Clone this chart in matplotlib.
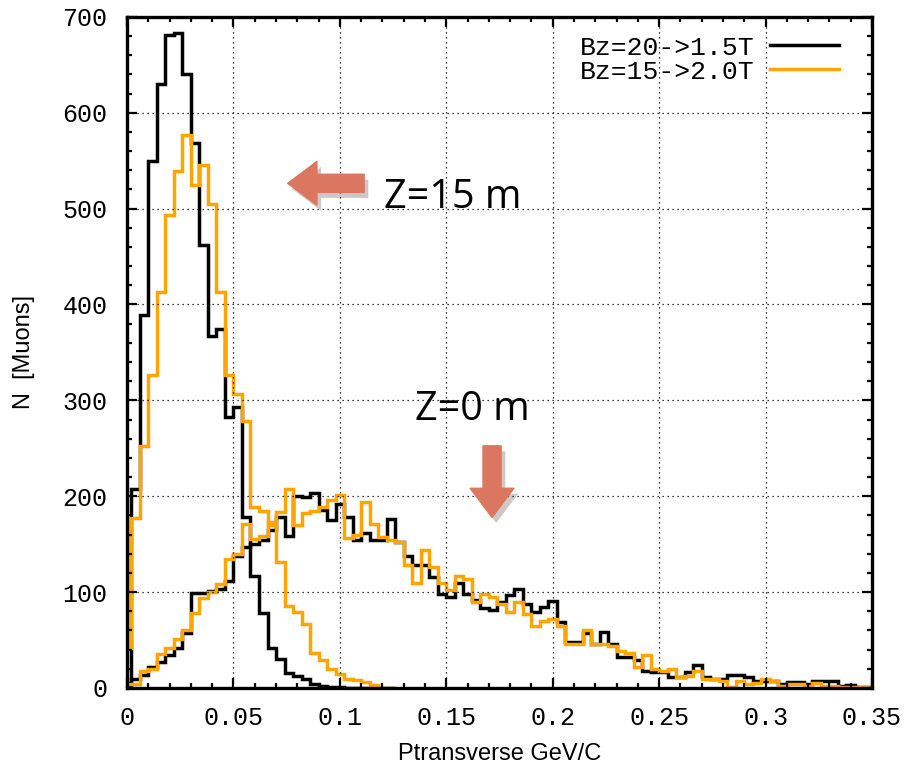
import numpy as np
import matplotlib.pyplot as plt
import matplotlib.patheffects as pe

# bin width 0.004 GeV/c, bins centred on multiples of the width
bin_w = 0.004

# Z=15 m
bz20_z15 = [2, 208, 389, 550, 630, 681, 683, 640, 568, 462, 367, 374, 283, 293,
            178, 117, 78, 42, 30, 16, 13, 9, 4, 2, 1, 1, 0, 0, 0, 0, 0, 0]
bz15_z15 = [42, 177, 252, 326, 413, 493, 539, 577, 525, 546, 505, 413, 326, 307,
            279, 189, 185, 170, 131, 86, 79, 67, 37, 29, 20, 15, 9, 8, 6, 3, 0, 0]

# Z=0 m
bz20_z0 = [5, 9, 14, 22, 27, 34, 42, 57, 99, 99, 101, 103, 112, 138, 147, 150,
           154, 165, 178, 159, 200, 199, 203, 186, 175, 192, 178, 154, 162, 154,
           154, 176, 152, 138, 128, 128, 116, 98, 95, 110, 98, 92, 83, 81, 90, 97,
           103, 88, 79, 84, 91, 69, 48, 48, 57, 46, 58, 46, 32, 32, 29, 18, 17, 17,
           11, 11, 17, 24, 11, 9, 9, 14, 14, 11, 7, 7, 7, 4, 6, 6, 4, 7, 7, 7,
           2, 3, 1, 1]
bz15_z0 = [4, 4, 18, 20, 35, 42, 51, 60, 78, 94, 100, 108, 135, 140, 171, 155,
           159, 173, 184, 208, 170, 183, 185, 189, 196, 201, 156, 160, 194, 171,
           157, 154, 152, 128, 110, 144, 126, 110, 102, 117, 114, 90, 98, 95, 88,
           79, 90, 77, 65, 70, 72, 65, 46, 46, 60, 46, 46, 44, 39, 37, 22, 34, 20,
           18, 20, 11, 12, 18, 9, 9, 7, 1, 7, 4, 5, 9, 7, 2, 4, 4, 2, 5, 2, 2,
           1, 1, 1, 1]

labels = ['Bz=20->1.5T', 'Bz=15->2.0T']
colors = ['black', '#FFA500']


def edges(vals):
    c = np.arange(len(vals)) * bin_w
    return np.append(c - bin_w / 2, c[-1] + bin_w / 2)


fig = plt.figure(figsize=(9.14, 7.67), dpi=100)
ax = fig.add_axes([0.139, 0.103, 0.815, 0.875])

lw = 2.5
ax.stairs(bz20_z15, edges(bz20_z15), color=colors[0], lw=lw, baseline=None)
ax.stairs(bz20_z0, edges(bz20_z0), color=colors[0], lw=lw, baseline=None)
ax.stairs(bz15_z15, edges(bz15_z15), color=colors[1], lw=lw, baseline=None)
ax.stairs(bz15_z0, edges(bz15_z0), color=colors[1], lw=lw, baseline=None)

ax.set_xlim(0, 0.35)
ax.set_ylim(0, 700)
ax.set_xticks(np.arange(0, 0.351, 0.05))
ax.set_xticklabels(['0', '0.05', '0.1', '0.15', '0.2', '0.25', '0.3', '0.35'])
ax.set_xticks(np.arange(0, 0.351, 0.01), minor=True)
ax.set_yticks(np.arange(0, 701, 100))
ax.set_yticks(np.arange(0, 701, 20), minor=True)

mono = 'Liberation Mono'
for t in ax.get_xticklabels() + ax.get_yticklabels():
    t.set_family(mono)
    t.set_fontsize(18)

ax.tick_params(which='both', direction='in', top=True, right=True, width=1.6)
ax.tick_params(which='major', length=7.5)
ax.tick_params(axis='x', which='major', pad=13)
ax.tick_params(axis='y', which='major', pad=14)
ax.tick_params(which='minor', length=3.8)
for s in ax.spines.values():
    s.set_linewidth(2.4)

ax.grid(True, which='major', color='black', lw=0.9, ls=(0, (1, 3)))

sans = 'Liberation Sans'
ax.set_xlabel('Ptransverse GeV/C', family=sans, fontsize=17, labelpad=9)
ax.set_ylabel('N  [Muons]', family=sans, fontsize=17, labelpad=20)

h = [plt.Line2D([], [], color=c, lw=lw) for c in colors]
ax.legend(h, labels, loc='upper right', frameon=False, markerfirst=False,
          prop={'family': mono, 'size': 19}, handlelength=2.6,
          labelspacing=0.0, borderaxespad=1.0, handletextpad=0.6,
          bbox_to_anchor=(1.005, 1.027))

# annotations
arrow_col = '#DB7760'
shadow = [pe.SimplePatchShadow(offset=(3, -4), alpha=0.25), pe.Normal()]
style = 'simple,head_length=1.0,head_width=1.5,tail_width=0.62'
a1 = ax.annotate('', xy=(0.212, 0.752), xytext=(0.322, 0.752),
                 xycoords='axes fraction',
                 arrowprops=dict(arrowstyle=style, color=arrow_col,
                                 mutation_scale=21))
a1.arrow_patch.set_path_effects(shadow)
a2 = ax.annotate('', xy=(0.49, 0.25), xytext=(0.49, 0.365),
                 xycoords='axes fraction',
                 arrowprops=dict(arrowstyle=style, color=arrow_col,
                                 mutation_scale=21))
a2.arrow_patch.set_path_effects(shadow)

ax.text(0.345, 0.73, 'Z=15 m', transform=ax.transAxes, family='Open Sans',
        fontsize=28.5, va='center', ha='left')
ax.text(0.386, 0.414, 'Z=0 m', transform=ax.transAxes, family='Open Sans',
        fontsize=28.5, va='center', ha='left')

fig.savefig('out.png', dpi=100)
